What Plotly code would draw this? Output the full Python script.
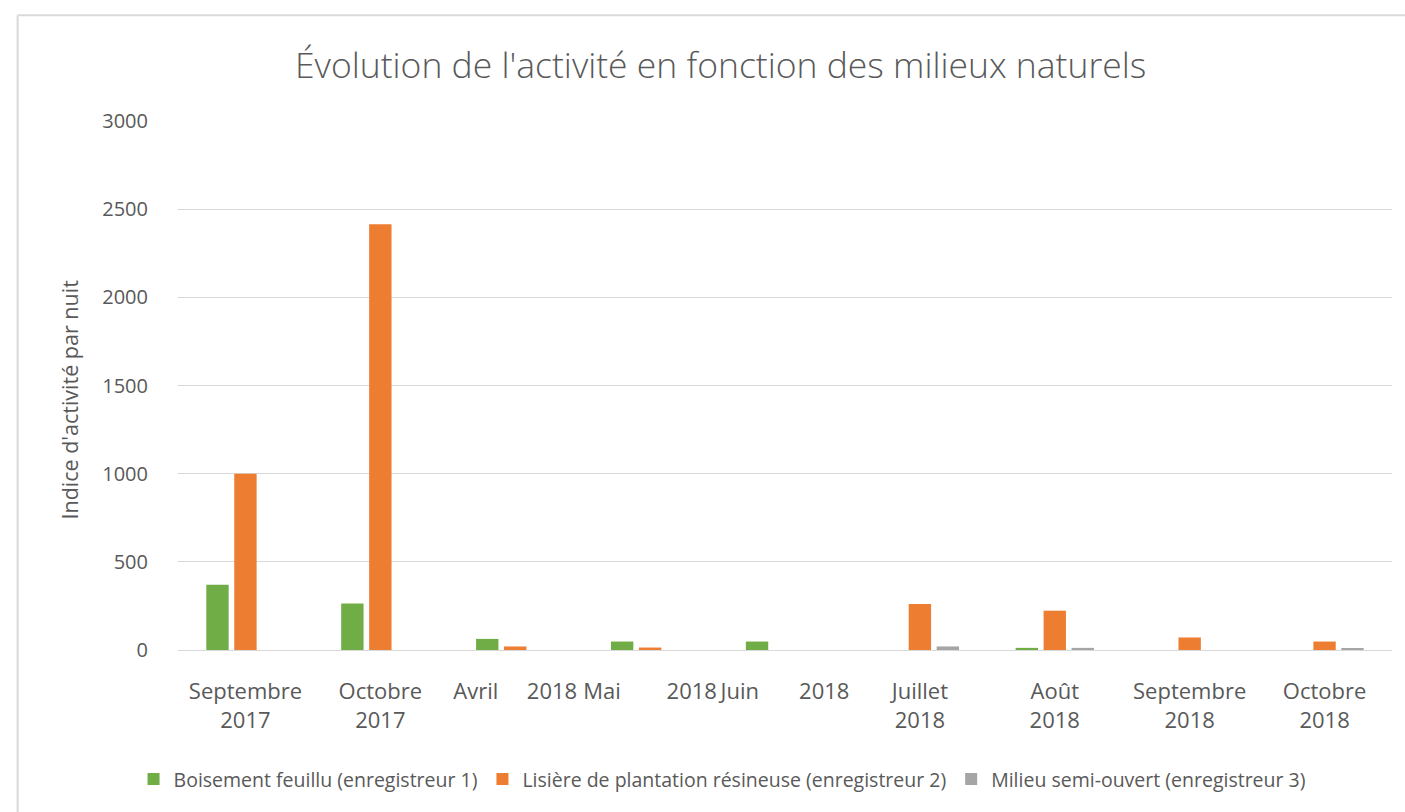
import plotly.graph_objects as go

# Catégories (mois d'enregistrement)
NB = "\u00a0"
categories = [
    "Septembre<br>2017",
    "Octobre<br>2017",
    "Avril" + NB * 5 + "2018",
    "Mai" + NB * 8 + "2018",
    "Juin" + NB * 7 + "2018",
    "Juillet<br>2018",
    "Août<br>2018",
    "Septembre<br>2018",
    "Octobre<br>2018",
]

# Indice d'activité par nuit, par enregistreur
boisement_feuillu = [370, 263, 63, 48, 48, 0, 12, 0, 0]
lisiere_resineuse = [1000, 2415, 20, 14, 0, 261, 223, 71, 48]
milieu_semi_ouvert = [0, 0, 0, 0, 0, 20, 12, 0, 8]

series_names = [
    "Boisement feuillu (enregistreur 1)",
    "Lisière de plantation résineuse (enregistreur 2)",
    "Milieu semi-ouvert (enregistreur 3)",
]
series_colors = ["#70AD47", "#ED7D31", "#A5A5A5"]

y_ticks = [0, 500, 1000, 1500, 2000, 2500, 3000]

TEXT = "#595959"
GRID = "#D9D9D9"
FONT = "Open Sans, DejaVu Sans, sans-serif"

fig = go.Figure()
for name, vals, col in zip(series_names,
                           [boisement_feuillu, lisiere_resineuse, milieu_semi_ouvert],
                           series_colors):
    fig.add_trace(go.Bar(
        x=list(range(len(categories))), y=vals, name=name,
        marker=dict(color=col, line=dict(width=0)),
    ))

W, H = 1405, 812
L, R, T, B = 177.5, 12.5, 120.5, 161.5
pw = W - L - R
ph = H - T - B

def px_x(x):
    return (x - L) / pw

def px_y(y):
    return (H - B - y) / ph

fig.update_layout(
    width=W, height=H,
    margin=dict(l=L, r=R, t=T, b=B, pad=0, autoexpand=False),
    paper_bgcolor="white", plot_bgcolor="white",
    font=dict(family=FONT, color=TEXT),
    barmode="group", bargap=0.378, bargroupgap=0.2,
    showlegend=True,
    legend=dict(
        orientation="h", x=px_x(722), xanchor="center",
        y=px_y(780), yanchor="middle",
        font=dict(size=19.5, color=TEXT, family=FONT),
        itemwidth=30, tracegroupgap=0,
    ),
    xaxis=dict(
        tickmode="array", tickvals=list(range(len(categories))), ticktext=categories,
        range=[-0.5, len(categories) - 0.5],
        showgrid=False, zeroline=False, showline=True, linecolor=GRID, linewidth=1,
        ticks="", tickfont=dict(size=22, color=TEXT, family=FONT),
        ticklabelstandoff=22,
    ),
    yaxis=dict(
        range=[0, 3000], tickmode="array", tickvals=y_ticks,
        showgrid=True, gridcolor=GRID, gridwidth=1,
        zeroline=True, zerolinecolor=GRID, zerolinewidth=1,
        showline=False, ticks="",
        tickfont=dict(size=20, color=TEXT, family=FONT),
        ticklabelstandoff=29,
    ),
    annotations=[
        dict(
            text="Évolution de l'activité en fonction des milieux naturels",
            xref="paper", yref="paper", x=px_x(720), y=px_y(63),
            xanchor="center", yanchor="middle", showarrow=False,
            font=dict(size=35.5, color=TEXT, family=FONT, weight=300),
        ),
        dict(
            text="Indice d'activité par nuit",
            xref="paper", yref="paper", x=px_x(69), y=px_y(400),
            xanchor="center", yanchor="middle", showarrow=False, textangle=-90,
            font=dict(size=21.5, color=TEXT, family=FONT),
        ),
    ],
    shapes=[
        # chart frame (top and left edges visible)
        dict(type="line", xref="paper", yref="paper",
             x0=px_x(17), x1=px_x(1420), y0=px_y(14.5), y1=px_y(14.5),
             line=dict(color=GRID, width=2)),
        dict(type="line", xref="paper", yref="paper",
             x0=px_x(17), x1=px_x(17), y0=px_y(14.5), y1=px_y(830),
             line=dict(color=GRID, width=2)),
    ],
)

fig.write_html("out.html")
